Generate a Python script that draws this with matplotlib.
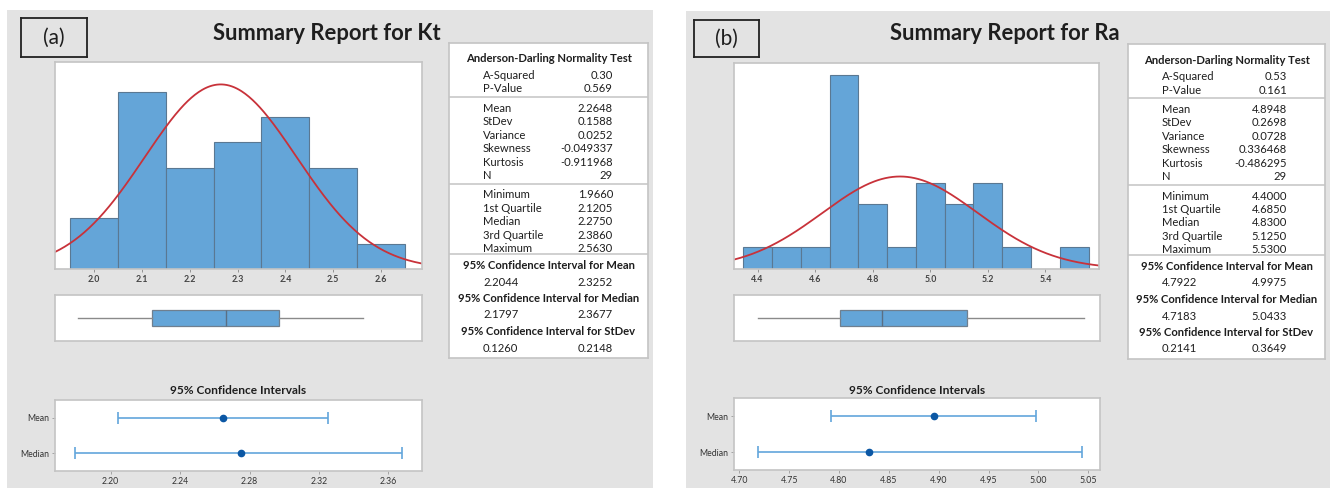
import numpy as np
import matplotlib
matplotlib.use("Agg")
import matplotlib.pyplot as plt
from matplotlib.patches import Rectangle

plt.rcParams["font.family"] = ["Lato", "DejaVu Sans"]

W, H = 1330, 488

# ---- Kt data ----
kt_bin_centers = [2.0, 2.1, 2.2, 2.3, 2.4, 2.5, 2.6]
kt_counts = [2, 7, 4, 5, 6, 4, 1]
kt_hist_ticks = [2.0, 2.1, 2.2, 2.3, 2.4, 2.5, 2.6]
kt_ad = [0.30, 0.569]
kt_moments = [2.2648, 0.1588, 0.0252, -0.049337, -0.911968, 29]
kt_five_num = [1.9660, 2.1205, 2.2750, 2.3860, 2.5630]
kt_ci_mean = [2.2044, 2.3252]
kt_ci_median = [2.1797, 2.3677]
kt_ci_stdev = [0.1260, 0.2148]
kt_ci_ticks = [2.20, 2.24, 2.28, 2.32, 2.36]

# ---- Ra data ----
ra_bin_centers = [4.4, 4.5, 4.6, 4.7, 4.8, 4.9, 5.0, 5.1, 5.2, 5.3, 5.4, 5.5]
ra_counts = [1, 1, 1, 9, 3, 1, 4, 3, 4, 1, 0, 1]
ra_hist_ticks = [4.4, 4.6, 4.8, 5.0, 5.2, 5.4]
ra_ad = [0.53, 0.161]
ra_moments = [4.8948, 0.2698, 0.0728, 0.336468, -0.486295, 29]
ra_five_num = [4.4000, 4.6850, 4.8300, 5.1250, 5.5300]
ra_ci_mean = [4.7922, 4.9975]
ra_ci_median = [4.7183, 5.0433]
ra_ci_stdev = [0.2141, 0.3649]
ra_ci_ticks = [4.70, 4.75, 4.80, 4.85, 4.90, 4.95, 5.00, 5.05]

BAR = "#64a5d8"
BAR_EDGE = "#5a7892"
CURVE = "#c8323a"
CI_LINE = "#62a6dc"
CI_DOT = "#0b57a4"
PANEL = "#e3e3e3"
FRAME = "#c4c4c4"
TEXT = "#1e1e1e"

MOMENT_NAMES = ["Mean", "StDev", "Variance", "Skewness", "Kurtosis", "N"]
MOMENT_FMT = ["{:.4f}", "{:.4f}", "{:.4f}", "{:.6f}", "{:.6f}", "{:d}"]
QUART_NAMES = ["Minimum", "1st Quartile", "Median", "3rd Quartile", "Maximum"]


def rect(x0, y0, x1, y1):
    return [x0 / W, 1 - y1 / H, (x1 - x0) / W, (y1 - y0) / H]


def frame(ax):
    for s in ax.spines.values():
        s.set_color(FRAME)
        s.set_linewidth(1.2)


def pixel_axes(fig, box, **kw):
    x0, y0, x1, y1 = box
    ax = fig.add_axes(rect(*box), **kw)
    ax.set_xlim(0, x1 - x0)
    ax.set_ylim(y1 - y0, 0)
    ax.set_xticks([])
    ax.set_yticks([])
    return ax


def draw_report(fig, lay, name, tag, centers, counts, hist_ticks, ad, moments,
                five_num, ci_mean, ci_median, ci_stdev, ci_ticks):
    # grey background panel
    x0, y0, x1, y1 = lay["panel"]
    fig.patches.append(Rectangle((x0 / W, 1 - y1 / H), (x1 - x0) / W, (y1 - y0) / H,
                                 transform=fig.transFigure, facecolor=PANEL,
                                 edgecolor="none", zorder=-10))

    # panel tag box
    tax = pixel_axes(fig, lay["tag"])
    tax.set_facecolor(PANEL)
    for s in tax.spines.values():
        s.set_color("#222222")
        s.set_linewidth(1.3)
    tb = lay["tag"]
    tax.text((tb[2] - tb[0]) / 2, (tb[3] - tb[1]) / 2, tag, ha="center", va="center",
             fontsize=15, color=TEXT)

    fig.text(lay["title"][0] / W, 1 - lay["title"][1] / H, f"Summary Report for {name}",
             ha="right", va="center", fontsize=15.8, fontweight="bold", color=TEXT)

    # histogram with fitted normal curve
    mean, stdev, n = moments[0], moments[1], moments[5]
    width = centers[1] - centers[0]
    hax = fig.add_axes(rect(*lay["hist"]))
    hax.bar(centers, counts, width=width, color=BAR, edgecolor=BAR_EDGE, linewidth=0.8)
    xs = np.linspace(lay["hist_xlim"][0], lay["hist_xlim"][1], 300)
    pdf = np.exp(-0.5 * ((xs - mean) / stdev) ** 2) / (stdev * np.sqrt(2 * np.pi))
    hax.plot(xs, n * width * pdf, color=CURVE, linewidth=1.3)
    hax.set_xlim(*lay["hist_xlim"])
    hax.set_ylim(0, lay["hist_ymax"])
    hax.set_yticks([])
    hax.set_xticks(hist_ticks)
    hax.set_xticklabels([f"{t:.1f}" for t in hist_ticks], fontweight="bold")
    hax.tick_params(axis="x", length=2, width=0.6, color="#888888", labelsize=6.3,
                    labelcolor="#444444", pad=2)
    frame(hax)

    # boxplot on the same scale
    bax = fig.add_axes(rect(*lay["box"]))
    stats = [{"whislo": five_num[0], "q1": five_num[1], "med": five_num[2],
              "q3": five_num[3], "whishi": five_num[4]}]
    bax.bxp(stats, orientation="horizontal", widths=0.36, showfliers=False,
            showcaps=False, patch_artist=True,
            boxprops=dict(facecolor=BAR, edgecolor="#6f7f8f", linewidth=0.9),
            medianprops=dict(color="#5a6f84", linewidth=1.0),
            whiskerprops=dict(color="#8a8a8a", linewidth=1.0))
    bax.set_xlim(*lay["hist_xlim"])
    bax.set_ylim(0.5, 1.5)
    bax.set_xticks([])
    bax.set_yticks([])
    frame(bax)

    # 95% confidence intervals
    cx, cy = lay["ci_title"]
    fig.text(cx / W, 1 - cy / H, "95% Confidence Intervals", ha="center", va="center",
             fontsize=8.6, fontweight="bold", color=TEXT)
    cax = fig.add_axes(rect(*lay["ci"]))
    points = [five_num[2], mean]
    lows = [ci_median[0], ci_mean[0]]
    highs = [ci_median[1], ci_mean[1]]
    err = [np.subtract(points, lows), np.subtract(highs, points)]
    cax.errorbar(points, [0, 1], xerr=err, fmt="none", ecolor=CI_LINE, elinewidth=1.2,
                 capsize=4, capthick=1.2)
    cax.plot(points, [0, 1], "o", color=CI_DOT, markersize=4.5)
    cax.set_ylim(-0.5, 1.5)
    cax.set_xlim(*lay["ci_xlim"])
    cax.set_yticks([0, 1])
    cax.set_yticklabels(["Median", "Mean"])
    cax.set_xticks(ci_ticks)
    cax.set_xticklabels([f"{t:.2f}" for t in ci_ticks])
    cax.tick_params(length=2, width=0.6, color="#999999", labelsize=6.3,
                    labelcolor="#333333", pad=2)
    frame(cax)

    # statistics table
    tbx = pixel_axes(fig, lay["table"])
    tbx.set_facecolor("white")
    frame(tbx)
    tw = lay["table"][2] - lay["table"][0]
    lx, vx = lay["tab_cols"]
    mid = tw / 2
    fs = 8.1

    def row(y, label, value):
        tbx.text(lx, y, label, ha="left", va="center", fontsize=fs, color=TEXT)
        tbx.text(vx, y, value, ha="right", va="center", fontsize=fs, color=TEXT)

    def header(y, s):
        tbx.text(mid, y, s, ha="center", va="center", fontsize=fs,
                 fontweight="bold", color=TEXT)

    def sep(y):
        tbx.plot([0, tw], [y, y], color=FRAME, linewidth=1.1)

    header(16, "Anderson-Darling Normality Test")
    row(32.5, "A-Squared", f"{ad[0]:.2f}")
    row(46, "P-Value", f"{ad[1]:.3f}")
    sep(53.5)
    for i, (nm, fmt) in enumerate(zip(MOMENT_NAMES, MOMENT_FMT)):
        val = moments[i] if nm != "N" else int(moments[i])
        row(65.5 + 13.4 * i, nm, fmt.format(val))
    sep(140.5)
    for i, nm in enumerate(QUART_NAMES):
        row(152 + 13.4 * i, nm, f"{five_num[i]:.4f}")
    sep(211)
    intervals = [("Mean", ci_mean), ("Median", ci_median), ("StDev", ci_stdev)]
    for i, (nm, (lo, hi)) in enumerate(intervals):
        y = 222.5 + 33 * i
        header(y, f"95% Confidence Interval for {nm}")
        row(y + 16.5, f"{lo:.4f}", f"{hi:.4f}")


LAYOUT_KT = {
    "panel": (7, 10, 653, 488),
    "tag": (21, 18, 87, 57),
    "title": (441, 33),
    "hist": (55, 62, 422, 269),
    "hist_xlim": (1.918, 2.686),
    "hist_ymax": 8.17,
    "box": (55, 295, 422, 341),
    "ci_title": (238, 391),
    "ci": (55, 400, 422, 471),
    "ci_xlim": (2.1679, 2.3794),
    "table": (449, 43, 648, 358),
    "tab_cols": (34, 164),
}

LAYOUT_RA = {
    "panel": (686, 11, 1330, 488),
    "tag": (694, 20, 759, 57),
    "title": (1120, 33),
    "hist": (734, 63, 1099, 269),
    "hist_xlim": (4.318, 5.586),
    "hist_ymax": 9.55,
    "box": (734, 295, 1100, 341),
    "ci_title": (917, 390),
    "ci": (734, 398, 1100, 470),
    "ci_xlim": (4.6947, 5.0617),
    "table": (1128, 44, 1325, 359),
    "tab_cols": (34, 159),
}

fig = plt.figure(figsize=(W / 100, H / 100), dpi=100)
fig.patch.set_facecolor("white")

draw_report(fig, LAYOUT_KT, "Kt", "(a)", kt_bin_centers, kt_counts, kt_hist_ticks,
            kt_ad, kt_moments, kt_five_num, kt_ci_mean, kt_ci_median, kt_ci_stdev,
            kt_ci_ticks)
draw_report(fig, LAYOUT_RA, "Ra", "(b)", ra_bin_centers, ra_counts, ra_hist_ticks,
            ra_ad, ra_moments, ra_five_num, ra_ci_mean, ra_ci_median, ra_ci_stdev,
            ra_ci_ticks)

fig.savefig("out.png", dpi=100)
